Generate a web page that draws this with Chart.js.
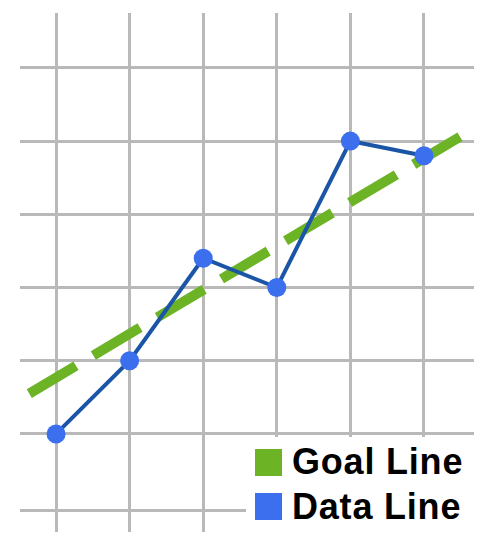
<!DOCTYPE html>
<html>
<head>
<meta charset="utf-8">
<script src="https://cdn.jsdelivr.net/npm/chart.js@4"></script>
<style>
  html, body { margin: 0; padding: 0; background: #fff; }
  #wrap { position: relative; width: 500px; height: 548px; }
  #legend { position: absolute; left: 246px; top: 437px; width: 254px; height: 111px; background: #fff; }
  .sw { position: absolute; left: 9px; width: 27px; height: 27px; }
  .lbl { position: absolute; left: 46px; font: bold 36px "Liberation Sans", Arial, sans-serif; line-height: 36px; letter-spacing: 0.8px; color: #000; white-space: nowrap; }
</style>
</head>
<body>
<div id="wrap">
  <canvas id="chart" width="500" height="548"></canvas>
  <div id="legend">
    <div class="sw" style="top:12px;background:#6cb425"></div>
    <div class="lbl" style="top:7px">Goal Line</div>
    <div class="sw" style="top:56px;background:#3c6fee"></div>
    <div class="lbl" style="top:52px">Data Line</div>
  </div>
</div>
<script>
// grid positions (no labels in the picture)
var xTicks = [0, 1, 2, 3, 4, 5];
var yTicks = [-0.05, 1, 2, 3, 4, 5, 6];
// data line
var dataX = [0, 1, 2, 3, 4, 5];
var dataY = [1, 2, 3.4, 3, 5, 4.8];
// goal line end points
var goalX = [-0.364, 5.49];
var goalY = [1.55, 5.06];

var ctx = document.getElementById("chart");
var myChart = new Chart(ctx, {
    type: "line",
    data: {
        datasets: [
            {
                label: "Data Line",
                data: dataX.map(function (x, i) { return { x: x, y: dataY[i] }; }),
                borderColor: "#1b55a6",
                borderWidth: 4,
                backgroundColor: "#3c6fee",
                pointBackgroundColor: "#3c6fee",
                pointBorderWidth: 0,
                pointRadius: 9.5,
                tension: 0,
                order: 1,
                clip: false,
            },
            {
                label: "Goal Line",
                data: goalX.map(function (x, i) { return { x: x, y: goalY[i] }; }),
                borderColor: "#6cb425",
                borderWidth: 10,
                borderDash: [54.4, 20.2],
                borderCapStyle: "butt",
                pointRadius: 0,
                tension: 0,
                order: 2,
                clip: false,
            },
        ],
    },
    options: {
        responsive: false,
        animation: false,
        layout: { padding: { left: 20, top: 13, right: 26, bottom: 16 } },
        plugins: {
            legend: { display: false },
            tooltip: { enabled: false },
        },
        scales: {
            x: {
                type: "linear",
                min: -0.49,
                max: 5.68,
                afterBuildTicks: function (scale) {
                    scale.ticks = xTicks.map(function (v) { return { value: v }; });
                },
                ticks: { display: false },
                grid: { color: "#b9b9b9", lineWidth: 3, drawTicks: false },
                border: { display: false },
            },
            y: {
                type: "linear",
                min: -0.34,
                max: 6.75,
                afterBuildTicks: function (scale) {
                    scale.ticks = yTicks.map(function (v) { return { value: v }; });
                },
                ticks: { display: false },
                grid: { color: "#b9b9b9", lineWidth: 3, drawTicks: false },
                border: { display: false },
            },
        },
    },
});
</script>
</body>
</html>
